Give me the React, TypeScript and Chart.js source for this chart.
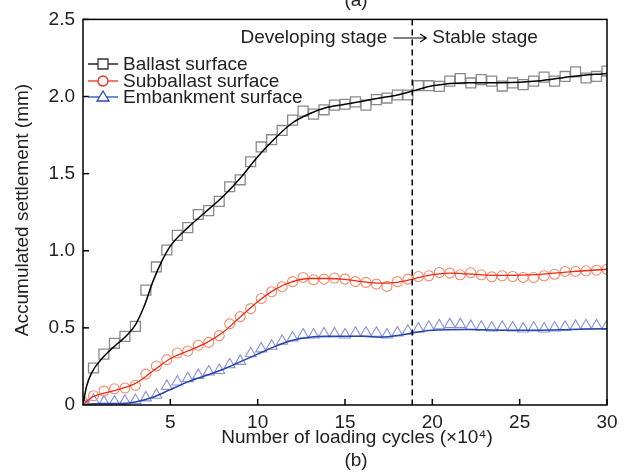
import React, { useEffect, useRef } from "react";
import { Chart, registerables } from "chart.js";

Chart.register(...registerables);

// Loading cycles (×10^4) at which measurements were taken
const cycles = [
  0, 0.6, 1.2, 1.8, 2.4, 3.0, 3.6, 4.2, 4.8, 5.4, 6.0, 6.6, 7.2, 7.8, 8.4, 9.0, 9.6,
  10.2, 10.8, 11.4, 12.0, 12.6, 13.2, 13.8, 14.4, 15.0, 15.6, 16.2, 16.8, 17.4, 18.0,
  18.6, 19.2, 19.8, 20.4, 21.0, 21.6, 22.2, 22.8, 23.4, 24.0, 24.6, 25.2, 25.8, 26.4,
  27.0, 27.6, 28.2, 28.8, 29.4, 30.0,
];

const ballast = [
  0.0, 0.24, 0.33, 0.4, 0.445, 0.51, 0.745, 0.895, 1.005, 1.1, 1.15, 1.235, 1.26, 1.32,
  1.415, 1.46, 1.577, 1.673, 1.72, 1.78, 1.847, 1.905, 1.886, 1.914, 1.944, 1.95, 1.965,
  1.944, 1.98, 1.99, 2.01, 2.01, 2.07, 2.07, 2.066, 2.1, 2.116, 2.088, 2.11, 2.1, 2.068,
  2.088, 2.077, 2.1, 2.126, 2.1, 2.13, 2.16, 2.12, 2.13, 2.165,
];

const subballast = [
  0.02, 0.06, 0.09, 0.105, 0.11, 0.128, 0.2, 0.253, 0.294, 0.337, 0.35, 0.387, 0.406,
  0.45, 0.526, 0.573, 0.625, 0.69, 0.734, 0.767, 0.8, 0.827, 0.812, 0.816, 0.823, 0.816,
  0.8, 0.795, 0.784, 0.769, 0.8, 0.816, 0.833, 0.838, 0.859, 0.855, 0.844, 0.857, 0.844,
  0.831, 0.838, 0.833, 0.827, 0.827, 0.838, 0.848, 0.866, 0.866, 0.87, 0.874, 0.88,
];

const embankment = [
  0.01, 0.03, 0.02, 0.02, 0.025, 0.03, 0.047, 0.064, 0.122, 0.15, 0.172, 0.193, 0.215,
  0.225, 0.262, 0.284, 0.333, 0.365, 0.382, 0.414, 0.436, 0.455, 0.455, 0.462, 0.462,
  0.455, 0.466, 0.468, 0.466, 0.455, 0.468, 0.479, 0.494, 0.505, 0.515, 0.522, 0.522,
  0.511, 0.505, 0.5, 0.505, 0.5, 0.494, 0.5, 0.494, 0.5, 0.505, 0.511, 0.515, 0.515, 0.511,
];

// Fitted curves
const ballastFitX = [0, 0.2, 0.5, 1, 1.5, 2, 2.5, 3, 3.5, 4, 4.5, 5, 6, 7, 8, 9, 10, 11, 12, 13, 14, 15, 16, 17, 18, 19, 20, 22, 24, 26, 28, 30];
const ballastFitY = [0, 0.12, 0.21, 0.29, 0.35, 0.4, 0.45, 0.52, 0.64, 0.8, 0.93, 1.03, 1.15, 1.25, 1.35, 1.47, 1.61, 1.73, 1.83, 1.89, 1.93, 1.95, 1.97, 1.99, 2.01, 2.04, 2.07, 2.09, 2.09, 2.1, 2.13, 2.15];

const subFitX = [0, 0.5, 1, 2, 3, 4, 5, 6, 7, 8, 9, 10, 11, 12, 13, 14, 15, 16, 17, 18, 19, 20, 21, 22, 24, 26, 28, 30];
const subFitY = [0, 0.05, 0.07, 0.1, 0.14, 0.22, 0.3, 0.35, 0.4, 0.47, 0.57, 0.67, 0.75, 0.8, 0.82, 0.82, 0.815, 0.8, 0.79, 0.795, 0.82, 0.845, 0.855, 0.85, 0.84, 0.845, 0.865, 0.88];

const embFitX = [0, 1, 2, 3, 4, 5, 6, 7, 8, 9, 10, 11, 12, 13, 14, 15, 16, 17, 18, 19, 20, 22, 24, 26, 28, 30];
const embFitY = [0, 0.01, 0.01, 0.02, 0.05, 0.1, 0.15, 0.19, 0.23, 0.28, 0.33, 0.38, 0.42, 0.44, 0.445, 0.445, 0.445, 0.44, 0.45, 0.47, 0.485, 0.49, 0.485, 0.485, 0.49, 0.495];

const stageBoundary = 18.85;
const seriesNames = ["Ballast surface", "Subballast surface", "Embankment surface"];
const xTitle = "Number of loading cycles (×10⁴)";
const yTitle = "Accumulated settlement (mm)";

const FONT = "'Liberation Sans', Arial, Helvetica, sans-serif";
const FS = 19;

const zip = (xs: number[], ys: number[]) => xs.map((x, i) => ({ x, y: ys[i] }));

function drawMarker(ctx: CanvasRenderingContext2D, style: string, x: number, y: number, color: string) {
  ctx.save();
  ctx.strokeStyle = color;
  ctx.lineWidth = 1.3;
  ctx.beginPath();
  if (style === "rect") {
    ctx.rect(x - 5, y - 5, 10, 10);
  } else if (style === "circle") {
    ctx.arc(x, y, 5, 0, Math.PI * 2);
  } else {
    ctx.moveTo(x, y - 6);
    ctx.lineTo(x + 6, y + 4);
    ctx.lineTo(x - 6, y + 4);
    ctx.closePath();
  }
  ctx.fillStyle = "#fff";
  ctx.fill();
  ctx.stroke();
  ctx.restore();
}

const decorPlugin = {
  id: "decor",
  afterDraw(chart: any) {
    const { ctx, chartArea: a, scales } = chart;
    const xs = scales.x;
    const ys = scales.y;
    ctx.save();
    // frame
    ctx.strokeStyle = "#000";
    ctx.lineWidth = 1.5;
    ctx.strokeRect(a.left, a.top, a.right - a.left, a.bottom - a.top);
    // inward ticks
    xs.ticks.forEach((t: any) => {
      if (t.value === 0) return;
      const px = xs.getPixelForValue(t.value);
      ctx.beginPath();
      ctx.moveTo(px, a.bottom);
      ctx.lineTo(px, a.bottom - 6);
      ctx.stroke();
    });
    ys.ticks.forEach((t: any) => {
      if (t.value === 0) return;
      const py = ys.getPixelForValue(t.value);
      ctx.beginPath();
      ctx.moveTo(a.left, py);
      ctx.lineTo(a.left + 6, py);
      ctx.stroke();
    });
    // stage boundary
    const bx = xs.getPixelForValue(stageBoundary);
    ctx.setLineDash([6, 4]);
    ctx.lineWidth = 1.5;
    ctx.beginPath();
    ctx.moveTo(bx, a.top);
    ctx.lineTo(bx, a.bottom);
    ctx.stroke();
    ctx.setLineDash([]);

    // annotation
    const ay = 38;
    ctx.fillStyle = "#222";
    ctx.font = `${FS}px ${FONT}`;
    ctx.textBaseline = "middle";
    ctx.textAlign = "right";
    ctx.fillText("Developing stage", bx - 25, ay);
    ctx.textAlign = "left";
    ctx.fillText("Stable stage", bx + 20, ay);
    ctx.lineWidth = 1.2;
    ctx.strokeStyle = "#000";
    ctx.beginPath();
    ctx.moveTo(bx - 19, ay);
    ctx.lineTo(bx + 14, ay);
    ctx.moveTo(bx + 8, ay - 4);
    ctx.lineTo(bx + 14, ay);
    ctx.lineTo(bx + 8, ay + 4);
    ctx.stroke();

    // legend
    const legend = [
      { line: "#000", marker: "#333", style: "rect" },
      { line: "#f03018", marker: "#f03018", style: "circle" },
      { line: "#2c4cb0", marker: "#2c4cb0", style: "triangle" },
    ];
    const rows = [64, 81, 97];
    legend.forEach((l, i) => {
      const y = rows[i];
      ctx.strokeStyle = l.line;
      ctx.lineWidth = 1.3;
      ctx.beginPath();
      ctx.moveTo(88, y);
      ctx.lineTo(118, y);
      ctx.stroke();
      drawMarker(ctx, l.style, 103, y, l.marker);
      ctx.fillStyle = "#222";
      ctx.textAlign = "left";
      ctx.textBaseline = "middle";
      ctx.font = `${FS}px ${FONT}`;
      ctx.fillText(seriesNames[i], 123, y + 1);
    });

    // axis titles & captions
    ctx.fillStyle = "#222";
    ctx.font = `${FS}px ${FONT}`;
    ctx.textAlign = "center";
    ctx.textBaseline = "middle";
    ctx.fillText(xTitle, 357, 438);
    ctx.fillText("(b)", 356, 461);
    ctx.textBaseline = "alphabetic";
    ctx.fillText("(a)", 356, 6);
    ctx.save();
    ctx.translate(23, 210);
    ctx.rotate(-Math.PI / 2);
    ctx.textBaseline = "middle";
    ctx.fillText(yTitle, 0, 0);
    ctx.restore();
    ctx.restore();
  },
};

export default function App() {
  const ref = useRef<HTMLCanvasElement | null>(null);
  useEffect(() => {
    if (!ref.current) return;
    const chart = new Chart(ref.current, {
      type: "line",
      data: {
        datasets: [
          {
            label: "Ballast fit",
            data: zip(ballastFitX, ballastFitY),
            borderColor: "#000",
            borderWidth: 1.5,
            pointRadius: 0,
            cubicInterpolationMode: "monotone",
            clip: 0,
          },
          {
            label: "Subballast fit",
            data: zip(subFitX, subFitY),
            borderColor: "#ee2a10",
            borderWidth: 1.3,
            pointRadius: 0,
            cubicInterpolationMode: "monotone",
            clip: 0,
          },
          {
            label: "Embankment fit",
            data: zip(embFitX, embFitY),
            borderColor: "#2446a8",
            borderWidth: 1.5,
            pointRadius: 0,
            cubicInterpolationMode: "monotone",
            clip: 0,
          },
          {
            label: seriesNames[0],
            data: zip(cycles, ballast),
            showLine: false,
            pointStyle: "rect",
            pointRadius: 7,
            pointBorderWidth: 1.3,
            pointBorderColor: "#8a8a8a",
            pointBackgroundColor: "rgba(0,0,0,0)",
            clip: 0,
          },
          {
            label: seriesNames[1],
            data: zip(cycles, subballast),
            showLine: false,
            pointStyle: "circle",
            pointRadius: 5,
            pointBorderWidth: 1.1,
            pointBorderColor: "#f58a6c",
            pointBackgroundColor: "rgba(0,0,0,0)",
            clip: 0,
          },
          {
            label: seriesNames[2],
            data: zip(cycles, embankment),
            showLine: false,
            pointStyle: "triangle",
            pointRadius: 6.3,
            pointBorderWidth: 1.1,
            pointBorderColor: "#8a8ee0",
            pointBackgroundColor: "rgba(0,0,0,0)",
            clip: 0,
          },
        ],
      },
      options: {
        responsive: false,
        animation: false,
        layout: { padding: { left: 0, top: 17, right: 28, bottom: 0 } },
        plugins: { legend: { display: false }, tooltip: { enabled: false } },
        scales: {
          x: {
            type: "linear",
            min: 0,
            max: 30,
            grid: { display: false, drawTicks: false },
            border: { display: false },
            ticks: {
              stepSize: 5,
              padding: 6,
              color: "#222",
              font: { size: FS, family: FONT },
              maxRotation: 0,
              callback: (v: any) => (v === 0 ? "" : String(v)),
            },
            afterFit: (s: any) => {
              s.height = 67;
            },
          },
          y: {
            type: "linear",
            min: 0,
            max: 2.5,
            grid: { display: false, drawTicks: false },
            border: { display: false },
            ticks: {
              stepSize: 0.5,
              padding: 8,
              color: "#222",
              font: { size: FS, family: FONT },
              callback: (v: any) => (v === 0 ? "0" : Number(v).toFixed(1)),
            },
            afterFit: (s: any) => {
              s.width = 83;
            },
          },
        },
      } as any,
      plugins: [decorPlugin],
    });
    return () => chart.destroy();
  }, []);
  return (
    <div style={{ position: "absolute", left: 0, top: 0, width: 635, height: 472, background: "#fff" }}>
      <canvas ref={ref} width={635} height={472} style={{ display: "block" }} />
    </div>
  );
}
